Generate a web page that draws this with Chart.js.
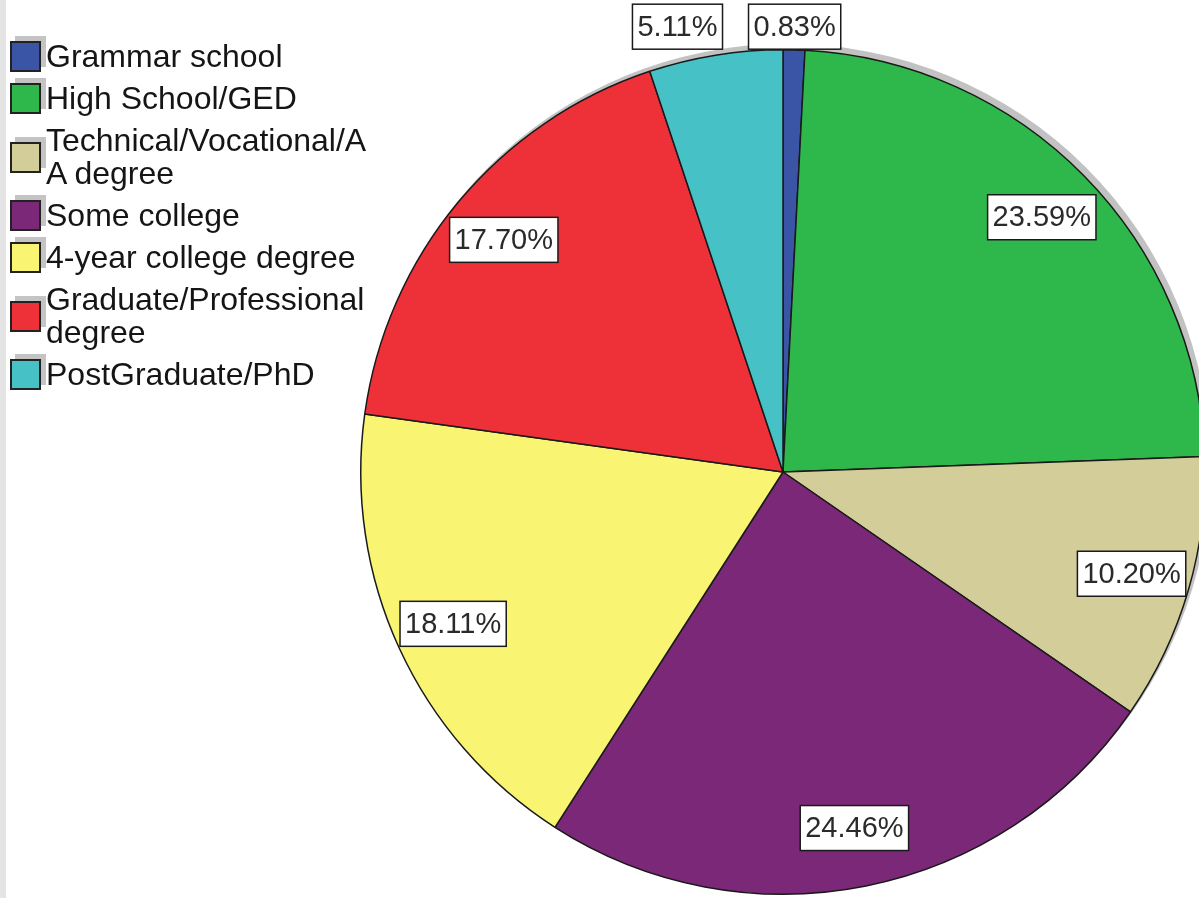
<!DOCTYPE html>
<html>
<head>
<meta charset="utf-8">
<script src="https://cdn.jsdelivr.net/npm/chart.js@4.4.1/dist/chart.umd.min.js"></script>
<style>
    body { margin: 0; background: #fff; overflow: hidden; width: 1199px; height: 898px; position: relative; }
    #strip { position: absolute; left: 0; top: 0; width: 6px; height: 898px; background: #e4e4e4; }
    #wrap { position: absolute; left: 0; top: 0; width: 1215px; height: 898px; }
    #legend { position: absolute; left: 10px; top: 40px; font-family: "Liberation Sans", Arial, sans-serif; font-size: 32px; color: #151515; }
    .item { display: flex; align-items: center; margin-bottom: 9px; }
    .box { width: 27px; height: 27px; border: 2px solid #222; box-shadow: 5px -5px 0 #c4c4c4; flex: none; }
    .txt { margin-left: 5px; line-height: 33px; width: 332px; word-break: break-all; }
</style>
</head>
<body>
<div id="strip"></div>
<div id="wrap"><canvas id="pieChart"></canvas></div>
<div id="legend"></div>
<script>
// Education level shares (percent), clockwise from 12 o'clock
const categories = [
    'Grammar school',
    'High School/GED',
    'Technical/Vocational/AA degree',
    'Some college',
    '4-year college degree',
    'Graduate/Professional degree',
    'PostGraduate/PhD'
];
const percents = [0.83, 23.59, 10.20, 24.46, 18.11, 17.70, 5.11];
const sliceColors = ['#3a55a6', '#2eb84b', '#d3cd99', '#7b2879', '#f9f572', '#ee3139', '#46c1c6'];

// build the legend on the left
const legend = document.getElementById('legend');
categories.forEach((name, i) => {
    const item = document.createElement('div');
    item.className = 'item';
    item.innerHTML = '<div class="box" style="background:' + sliceColors[i] + '"></div><div class="txt">' + name + '</div>';
    legend.appendChild(item);
});

// gray drop shadow behind the pie
const shadowPlugin = {
    id: 'pieShadow',
    beforeDatasetsDraw(chart) {
        const arc = chart.getDatasetMeta(0).data[0];
        if (!arc) return;
        const p = arc.getProps(['x', 'y', 'outerRadius'], true);
        const ctx = chart.ctx;
        ctx.save();
        ctx.fillStyle = '#c2c2c2';
        ctx.beginPath();
        ctx.arc(p.x + 4, p.y - 5, p.outerRadius + 1, 0, Math.PI * 2);
        ctx.fill();
        ctx.restore();
    }
};

// boxed percentage labels
const boxLabelPlugin = {
    id: 'boxLabels',
    afterDatasetsDraw(chart) {
        const ctx = chart.ctx;
        const arcs = chart.getDatasetMeta(0).data;
        ctx.save();
        ctx.font = '29px "Liberation Sans", Arial, sans-serif';
        ctx.textAlign = 'center';
        ctx.textBaseline = 'middle';
        const labels = [];
        arcs.forEach((arc, i) => {
            const p = arc.getProps(['x', 'y', 'startAngle', 'endAngle', 'outerRadius'], true);
            const mid = (p.startAngle + p.endAngle) / 2;
            const text = percents[i].toFixed(2) + '%';
            const w = ctx.measureText(text).width + 10;
            const small = percents[i] < 6;
            const r = small ? p.outerRadius + 24 : p.outerRadius * 0.86;
            labels.push({ text, w, small, x: p.x + Math.cos(mid) * r, y: p.y + Math.sin(mid) * r });
        });
        // keep the small outside labels from overlapping
        const outer = labels.filter(l => l.small).sort((a, b) => b.x - a.x);
        for (let k = 1; k < outer.length; k++) {
            const prev = outer[k - 1], cur = outer[k];
            const limit = prev.x - prev.w / 2 - 26;
            if (cur.x + cur.w / 2 > limit) cur.x = limit - cur.w / 2;
        }
        if (outer.length) {
            const avgY = outer.reduce((s, l) => s + l.y, 0) / outer.length;
            outer.forEach(l => { l.y = avgY - 2; });
        }
        labels.forEach(l => {
            const h = 45;
            ctx.fillStyle = '#ffffff';
            ctx.fillRect(l.x - l.w / 2, l.y - h / 2, l.w, h);
            ctx.lineWidth = 1.5;
            ctx.strokeStyle = '#1a1a1a';
            ctx.strokeRect(l.x - l.w / 2, l.y - h / 2, l.w, h);
            ctx.fillStyle = '#2a2a2a';
            ctx.fillText(l.text, l.x, l.y + 1);
        });
        ctx.restore();
    }
};

const ctx = document.getElementById('pieChart').getContext('2d');
new Chart(ctx, {
    type: 'pie',
    data: {
        labels: categories,
        datasets: [{
            data: percents,
            backgroundColor: sliceColors,
            borderColor: '#1a1a1a',
            borderWidth: 1.5
        }]
    },
    options: {
        responsive: true,
        maintainAspectRatio: false,
        animation: false,
        layout: { padding: { left: 360, top: 49, right: 9, bottom: 3 } },
        plugins: {
            legend: { display: false },
            tooltip: { enabled: false }
        }
    },
    plugins: [shadowPlugin, boxLabelPlugin]
});
</script>
</body>
</html>
